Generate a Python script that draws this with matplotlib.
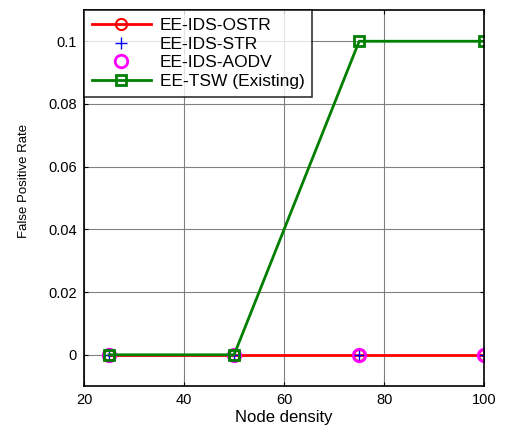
import matplotlib
matplotlib.use("Agg")
import matplotlib.pyplot as plt

node_density = [25, 50, 75, 100]
ostr = [0, 0, 0, 0]
str_vals = [0, 0, 0, 0]
aodv = [0, 0, 0, 0]
tsw = [0, 0, 0.1, 0.1]
x_ticks = [20, 40, 60, 80, 100]
y_ticks = [0, 0.02, 0.04, 0.06, 0.08, 0.1]
y_tick_labels = ["0", "0.02", "0.04", "0.06", "0.08", "0.1"]

plt.rcParams['font.family'] = ['Liberation Sans', 'DejaVu Sans']

fig = plt.figure(figsize=(5.06, 4.30), dpi=100)
ax = fig.add_axes([0.166, 0.102, 0.791, 0.875])

ax.plot(node_density, ostr, color='red', lw=2, marker='o', ms=8, mfc='none', mew=1.5,
        label='EE-IDS-OSTR')
ax.plot(node_density, str_vals, color='blue', lw=0, marker='+', ms=8, mew=1,
        label='EE-IDS-STR')
ax.plot(node_density, aodv, color='magenta', lw=0, marker='o', ms=9, mfc='none', mew=2,
        label='EE-IDS-AODV')
ax.plot(node_density, tsw, color='#007f00', lw=2, marker='s', ms=7, mfc='none', mew=2,
        label='EE-TSW (Existing)')

ax.set_xlim(20, 100)
ax.set_ylim(-0.01, 0.11)
ax.set_xticks(x_ticks)
ax.set_yticks(y_ticks)
ax.set_yticklabels(y_tick_labels)
ax.tick_params(direction='in', labelsize=10.5, length=3, top=True, right=True, pad=5)
ax.grid(True, color='#808080', lw=0.8)
ax.set_axisbelow(True)
for s in ax.spines.values():
    s.set_linewidth(1.2)

ax.set_xlabel('Node density', fontsize=12, labelpad=2)
ax.set_ylabel('False Positive Rate', fontsize=9.5)
ax.yaxis.set_label_coords(-0.136, 0.545)

leg = ax.legend(loc='upper left', fontsize=12.5, frameon=True, fancybox=False,
                edgecolor='black', borderaxespad=0, handlelength=3.4,
                handletextpad=0.5, borderpad=0.45, labelspacing=0.21)
leg.get_frame().set_linewidth(1.2)

fig.savefig('out.png', dpi=100)
